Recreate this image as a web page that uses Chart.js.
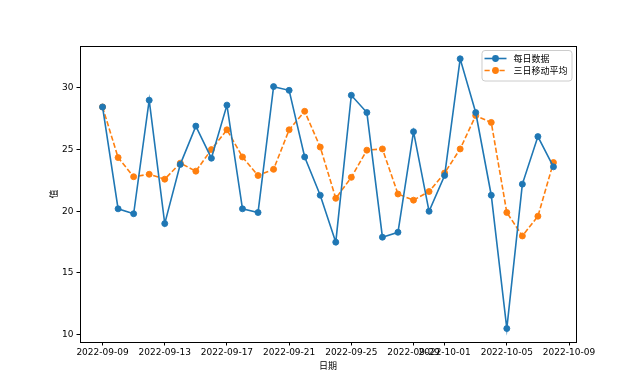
<!DOCTYPE html>
<html>
<head>
<meta charset="utf-8">
<script src="https://cdn.jsdelivr.net/npm/chart.js@4.4.0/dist/chart.umd.min.js"></script>
<style>
  html, body { margin: 0; padding: 0; background: #fff; }
  #wrap { width: 640px; height: 384px; }
</style>
</head>
<body>
<div id="wrap"><canvas id="myChart" width="640" height="384"></canvas></div>
<script>
let dates = [
    '2022-09-09', '2022-09-10', '2022-09-11', '2022-09-12', '2022-09-13',
    '2022-09-14', '2022-09-15', '2022-09-16', '2022-09-17', '2022-09-18',
    '2022-09-19', '2022-09-20', '2022-09-21', '2022-09-22', '2022-09-23',
    '2022-09-24', '2022-09-25', '2022-09-26', '2022-09-27', '2022-09-28',
    '2022-09-29', '2022-09-30', '2022-10-01', '2022-10-02', '2022-10-03',
    '2022-10-04', '2022-10-05', '2022-10-06', '2022-10-07', '2022-10-08'
];

let dailyValues = [
    28.45, 20.2, 19.8, 29.0, 19.0, 23.8, 26.9, 24.3, 28.6, 20.2,
    19.9, 30.1, 29.8, 24.4, 21.3, 17.5, 29.4, 28.0, 17.9, 18.3,
    26.45, 20.0, 22.9, 32.35, 28.0, 21.3, 10.5, 22.2, 26.05, 23.6
];

let rollingValues = [
    28.45, 24.35, 22.8, 23.0, 22.6, 23.9, 23.25, 25.0, 26.6, 24.4,
    22.9, 23.4, 26.6, 28.1, 25.2, 21.05, 22.75, 24.95, 25.05, 21.4,
    20.9, 21.6, 23.1, 25.05, 27.75, 27.2, 19.9, 18.0, 19.6, 23.95
];

let xTickLabels = [
    '2022-09-09', '2022-09-13', '2022-09-17', '2022-09-21', '2022-09-25',
    '2022-09-29', '2022-10-01', '2022-10-05', '2022-10-09'
];

let yTicks = [10, 15, 20, 25, 30];

let seriesNames = ['每日数据', '三日移动平均'];
let seriesColors = ['#1f77b4', '#ff7f0e'];


function dayOf(dateString) {
    return (Date.parse(dateString) - Date.parse(dates[0])) / 86400000;
}


function toPoints(values) {
    return values.map((v, i) => ({ x: dayOf(dates[i]), y: v }));
}


function labelForDay(day) {
    let d = new Date(Date.parse(dates[0]) + day * 86400000);
    return d.toISOString().slice(0, 10);
}


const framePlugin = {
    id: 'frame',
    afterDraw(chart) {
        const ctx = chart.ctx;
        const a = chart.chartArea;
        ctx.save();

        // axes box
        ctx.strokeStyle = '#000';
        ctx.lineWidth = 1;
        ctx.strokeRect(Math.round(a.left) + 0.5, Math.round(a.top) + 0.5,
            Math.round(a.right - a.left), Math.round(a.bottom - a.top));

        // legend in the upper right corner
        ctx.font = '9px "Noto Sans CJK SC", "DejaVu Sans", sans-serif';
        let textWidth = 0;
        chart.data.datasets.forEach(ds => {
            textWidth = Math.max(textWidth, ctx.measureText(ds.label).width);
        });
        let pad = 3;
        let handle = 22;
        let gap = 7;
        let rowHeight = 12;
        let boxW = pad + handle + gap + textWidth + pad + 1;
        let boxH = 30.5;
        let boxX = a.right - 4.5 - boxW;
        let boxY = a.top + 4;

        ctx.fillStyle = 'rgba(255,255,255,0.8)';
        ctx.strokeStyle = '#cccccc';
        ctx.lineWidth = 1;
        ctx.beginPath();
        ctx.roundRect(boxX + 0.5, boxY + 0.5, boxW, boxH, 3);
        ctx.fill();
        ctx.stroke();

        chart.data.datasets.forEach((ds, i) => {
            let y = boxY + 8.5 + rowHeight * i;
            let x0 = boxX + pad;
            ctx.strokeStyle = ds.borderColor;
            ctx.lineWidth = ds.borderWidth;
            ctx.setLineDash(ds.borderDash || []);
            ctx.beginPath();
            ctx.moveTo(x0, y);
            ctx.lineTo(x0 + handle, y);
            ctx.stroke();
            ctx.setLineDash([]);
            ctx.fillStyle = ds.borderColor;
            ctx.beginPath();
            ctx.arc(x0 + handle / 2, y, 3.4, 0, Math.PI * 2);
            ctx.fill();
            ctx.fillStyle = '#000';
            ctx.textBaseline = 'middle';
            ctx.textAlign = 'left';
            ctx.fillText(ds.label, x0 + handle + gap, y + 0.5);
        });

        ctx.restore();
    }
};


function renderChart() {
    const ctx = document.getElementById('myChart');
    const tickFont = { family: '"DejaVu Sans", "Noto Sans CJK SC", sans-serif', size: 9 };
    const titleFont = { family: '"Noto Sans CJK SC", "DejaVu Sans", sans-serif', size: 9 };

    new Chart(ctx, {
        type: 'line',
        data: {
            datasets: [
                {
                    label: seriesNames[0],
                    data: toPoints(dailyValues),
                    borderColor: seriesColors[0],
                    backgroundColor: seriesColors[0],
                    borderWidth: 1.6,
                    pointRadius: 3,
                    pointBorderWidth: 0.9,
                    pointBackgroundColor: seriesColors[0],
                    tension: 0
                },
                {
                    label: seriesNames[1],
                    data: toPoints(rollingValues),
                    borderColor: seriesColors[1],
                    backgroundColor: seriesColors[1],
                    borderWidth: 1.6,
                    borderDash: [5.2, 2.3],
                    pointRadius: 3,
                    pointBorderWidth: 0.9,
                    pointBackgroundColor: seriesColors[1],
                    tension: 0
                }
            ]
        },
        options: {
            responsive: false,
            animation: false,
            layout: {
                padding: { left: 0, top: 46, right: 64, bottom: 0 }
            },
            scales: {
                x: {
                    type: 'linear',
                    min: -1.45,
                    max: 30.45,
                    afterBuildTicks: (axis) => {
                        axis.ticks = xTickLabels.map(t => ({ value: dayOf(t) }));
                    },
                    afterFit: (axis) => { axis.height = 42; },
                    ticks: {
                        autoSkip: false,
                        maxRotation: 0,
                        color: '#000',
                        font: tickFont,
                        padding: 2,
                        callback: (value) => labelForDay(value)
                    },
                    grid: {
                        drawOnChartArea: false,
                        color: '#000',
                        tickLength: 3.5,
                        tickWidth: 1
                    },
                    border: { display: false },
                    title: {
                        display: true,
                        text: '日期',
                        color: '#000',
                        font: titleFont,
                        padding: { top: 0, bottom: 12.6 }
                    }
                },
                y: {
                    min: 9.41,
                    max: 33.39,
                    afterBuildTicks: (axis) => {
                        axis.ticks = yTicks.map(v => ({ value: v }));
                    },
                    afterFit: (axis) => { axis.width = 80; },
                    ticks: {
                        color: '#000',
                        font: tickFont,
                        padding: 3
                    },
                    grid: {
                        drawOnChartArea: false,
                        color: '#000',
                        tickLength: 3.5,
                        tickWidth: 1
                    },
                    border: { display: false },
                    title: {
                        display: true,
                        text: '值',
                        color: '#000',
                        font: titleFont,
                        padding: { top: 48.6, bottom: 0 }
                    }
                }
            },
            plugins: {
                legend: { display: false },
                tooltip: { enabled: false }
            }
        },
        plugins: [framePlugin]
    });
}

renderChart();
</script>
</body>
</html>
